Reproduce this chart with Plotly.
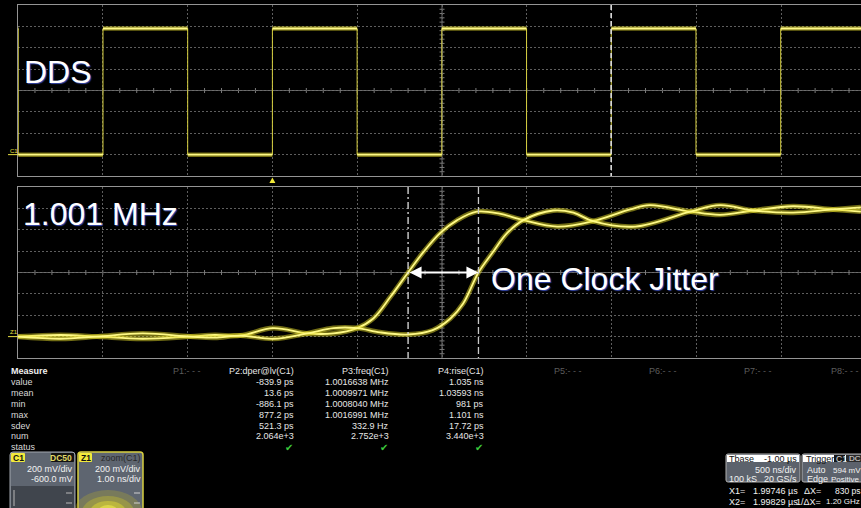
import plotly.graph_objects as go

W, H = 861, 508
SANS = "Liberation Sans, Arial, sans-serif"

# ---------------- C1: DDS output (500 ns/div, 200 mV/div, offset -600 mV) ----------------
c1_rising_us = [-0.999, 0.0, 0.999, 1.998, 2.997]
c1_falling_us = [-1.4985, -0.4995, 0.4995, 1.4985, 2.4975]
c1_low_v = 0.0
c1_high_v = 1.18

# ---------------- Z1: zoom of C1 around the rising edge near 2 us (1 ns/div) ----------------
z1_fast_ns = [1992.86, 1993.36, 1993.79, 1994.33, 1994.89, 1995.18, 1995.48, 1995.87,
              1996.27, 1996.58, 1996.86, 1997.05, 1997.25, 1997.46, 1997.64, 1997.84,
              1998.04, 1998.27, 1998.54, 1998.82, 1999.22, 1999.64, 2000.08, 2000.31,
              2000.79, 2001.14, 2001.53, 2002.00, 2002.47, 2002.80]
z1_fast_v = [0.00, 0.015, 0.00, -0.02, 0.00, 0.015, 0.01, 0.08,
             0.03, 0.03, 0.08, 0.17, 0.37, 0.60, 0.79, 0.97,
             1.09, 1.17, 1.15, 1.09, 1.03, 1.08, 1.19, 1.23,
             1.17, 1.14, 1.18, 1.22, 1.19, 1.17]
z1_slow_ns = [1992.86, 1993.36, 1993.79, 1994.33, 1994.89, 1995.18, 1995.48, 1995.87,
              1996.27, 1996.58, 1996.86, 1997.13, 1997.46, 1997.75, 1997.96, 1998.11,
              1998.29, 1998.45, 1998.63, 1998.82, 1999.17, 1999.41, 1999.64, 2000.14,
              2000.79, 2001.14, 2001.53, 2002.00, 2002.47, 2002.80]
z1_slow_v = [0.00, -0.02, 0.00, 0.03, 0.00, -0.01, 0.01, -0.02,
             0.03, 0.08, 0.08, 0.04, 0.02, 0.06, 0.17, 0.31,
             0.60, 0.78, 0.97, 1.09, 1.18, 1.16, 1.08, 1.03,
             1.17, 1.23, 1.18, 1.16, 1.19, 1.21]

# cursors
cursor_x1_us = 1.99746
cursor_x2_us = 1.99829

# ---------------- measurement table ----------------
measure_rows = ["value", "mean", "min", "max", "sdev", "num", "status"]
p2_header = "P2:dper@lv(C1)"
p2_values = ["-839.9 ps", "13.6 ps", "-886.1 ps", "877.2 ps", "521.3 ps", "2.064e+3"]
p3_header = "P3:freq(C1)"
p3_values = ["1.0016638 MHz", "1.0009971 MHz", "1.0008040 MHz", "1.0016991 MHz", "332.9 Hz", "2.752e+3"]
p4_header = "P4:rise(C1)"
p4_values = ["1.035 ns", "1.03593 ns", "981 ps", "1.101 ns", "17.72 ps", "3.440e+3"]
empty_params = ["P1:- - -", "P5:- - -", "P6:- - -", "P7:- - -", "P8:- - -"]

# ---------------- screen geometry ----------------
GRID_L = 18
DIV_PX = 84.8
TOP_Y0, TOP_Y1 = 5, 176
BOT_Y0, BOT_Y1 = 187, 358
VDIV = 0.2
V_CENTER = 0.6
US_PER_DIV = 0.5
NS_PER_DIV = 1.0
visible_divs = (W - GRID_L) / DIV_PX

c1_t0 = -1.5
c1_range = [c1_t0, c1_t0 + visible_divs * US_PER_DIV]
z1_t0 = 1992.86
z1_range = [z1_t0, z1_t0 + visible_divs * NS_PER_DIV]
v_range = [V_CENTER - 4 * VDIV, V_CENTER + 4 * VDIV]


def px(x):
    return x / W


def py(y):
    return 1 - y / H


YELLOW_GLOW = "rgba(228,218,40,0.50)"
YELLOW_CORE = "#fffa86"

fig = go.Figure()

# square wave: flat tops/bottoms drawn thick, edges drawn thin
edges = sorted([(t, 1) for t in c1_rising_us] + [(t, 0) for t in c1_falling_us])
level = c1_high_v if edges[0][1] == 0 else c1_low_v
hx, hy, vx, vy = [], [], [], []
prev = c1_range[0]
for t, is_rise in edges:
    hx += [prev, t, None]
    hy += [level, level, None]
    level = c1_high_v if is_rise else c1_low_v
    vx += [t, t, None]
    vy += [c1_low_v, c1_high_v, None]
    prev = t
hx += [prev, c1_range[1]]
hy += [level, level]

fig.add_trace(go.Scatter(x=vx, y=vy, mode="lines", line=dict(color="#d8d040", width=1),
                         hoverinfo="skip", xaxis="x", yaxis="y"))
fig.add_trace(go.Scatter(x=hx, y=hy, mode="lines", line=dict(color=YELLOW_GLOW, width=4.5),
                         hoverinfo="skip", xaxis="x", yaxis="y"))
fig.add_trace(go.Scatter(x=hx, y=hy, mode="lines", line=dict(color=YELLOW_CORE, width=1.8),
                         name="C1", xaxis="x", yaxis="y"))

# zoom traces (two captured edges)
for tx, tv, nm in [(z1_fast_ns, z1_fast_v, "Z1 early"), (z1_slow_ns, z1_slow_v, "Z1 late")]:
    fig.add_trace(go.Scatter(x=tx, y=tv, mode="lines", line=dict(color=YELLOW_GLOW, width=5, shape="spline", smoothing=1.0),
                             hoverinfo="skip", xaxis="x2", yaxis="y2"))
    fig.add_trace(go.Scatter(x=tx, y=tv, mode="lines", line=dict(color=YELLOW_CORE, width=1.8, shape="spline", smoothing=1.0),
                             name=nm, xaxis="x2", yaxis="y2"))

shapes = []
annotations = []

# center lines with fine ticks on both graticules
for (y0, y1) in [(TOP_Y0, TOP_Y1), (BOT_Y0, BOT_Y1)]:
    cy = (y0 + y1) / 2
    cx = GRID_L + 5 * DIV_PX
    vdiv_px = (y1 - y0) / 8
    shapes.append(dict(type="line", xref="paper", yref="paper", x0=px(GRID_L), x1=1, y0=py(cy), y1=py(cy),
                       line=dict(color="#6e6e6e", width=1), layer="below"))
    shapes.append(dict(type="line", xref="paper", yref="paper", x0=px(cx), x1=px(cx), y0=py(y0), y1=py(y1),
                       line=dict(color="#6e6e6e", width=1), layer="below"))
    k = 1
    while GRID_L + k * DIV_PX / 5 < W:
        x = GRID_L + k * DIV_PX / 5
        shapes.append(dict(type="line", xref="paper", yref="paper", x0=px(x), x1=px(x), y0=py(cy - 2.5), y1=py(cy + 2.5),
                           line=dict(color="#7a7a7a", width=1), layer="below"))
        k += 1
    for k in range(1, 40):
        y = y0 + k * vdiv_px / 5
        shapes.append(dict(type="line", xref="paper", yref="paper", x0=px(cx - 2.5), x1=px(cx + 2.5), y0=py(y), y1=py(y),
                           line=dict(color="#7a7a7a", width=1), layer="below"))

# cursors
shapes.append(dict(type="line", xref="x", yref="paper", x0=cursor_x1_us, x1=cursor_x1_us, y0=py(TOP_Y0), y1=py(TOP_Y1),
                   line=dict(color="#d8d8d8", width=1.3, dash="5px,3px")))
shapes.append(dict(type="line", xref="x", yref="paper", x0=cursor_x2_us, x1=cursor_x2_us, y0=py(TOP_Y0), y1=py(TOP_Y1),
                   line=dict(color="#d8d8d8", width=1.3, dash="5px,3px")))
x1_ns = cursor_x1_us * 1000
x2_ns = cursor_x2_us * 1000
shapes.append(dict(type="line", xref="x2", yref="paper", x0=x1_ns, x1=x1_ns, y0=py(BOT_Y0), y1=py(BOT_Y1),
                   line=dict(color="#e0e0e0", width=1.3, dash="7px,3px,2px,3px")))
shapes.append(dict(type="line", xref="x2", yref="paper", x0=x2_ns, x1=x2_ns, y0=py(BOT_Y0), y1=py(BOT_Y1),
                   line=dict(color="#c8c8c8", width=1.3, dash="7px,3px")))

# trigger position marker (t = 0) below the C1 graticule
tri = 3 / DIV_PX * US_PER_DIV
shapes.append(dict(type="path", xref="x", yref="paper",
                   path=f"M{-tri},{py(183)} L{tri},{py(183)} L0,{py(177.5)} Z",
                   fillcolor="#f0e838", line=dict(width=0)))

# channel ground markers at 0 V
shapes.append(dict(type="line", xref="paper", yref="y", x0=px(8), x1=px(18), y0=0, y1=0,
                   line=dict(color="#e8e040", width=1)))
shapes.append(dict(type="line", xref="paper", yref="y2", x0=px(8), x1=px(18), y0=0, y1=0,
                   line=dict(color="#e8e040", width=1)))


def text(s, x, y, size=9, color="#dcdcdc", anchor="left", bold=False, family=SANS, shadow=None):
    font = dict(family=family, size=size, color=color)
    if bold:
        font["weight"] = "bold"
    if shadow:
        font["shadow"] = shadow
    annotations.append(dict(text=s, x=px(x), y=py(y), xref="paper", yref="paper", xanchor=anchor,
                            yanchor="middle", showarrow=False, borderpad=0, font=font))


def rrect(x0, y0, x1, y1, fill, line=None, lw=1.0, r=0.0):
    if r:
        path = (f"M{px(x0 + r)},{py(y0)} L{px(x1 - r)},{py(y0)} Q{px(x1)},{py(y0)} {px(x1)},{py(y0 + r)} "
                f"L{px(x1)},{py(y1 - r)} Q{px(x1)},{py(y1)} {px(x1 - r)},{py(y1)} "
                f"L{px(x0 + r)},{py(y1)} Q{px(x0)},{py(y1)} {px(x0)},{py(y1 - r)} "
                f"L{px(x0)},{py(y0 + r)} Q{px(x0)},{py(y0)} {px(x0 + r)},{py(y0)} Z")
        shapes.append(dict(type="path", path=path, xref="paper", yref="paper", fillcolor=fill,
                           line=dict(color=line or "rgba(0,0,0,0)", width=lw if line else 0)))
    else:
        shapes.append(dict(type="rect", xref="paper", yref="paper", x0=px(x0), x1=px(x1), y0=py(y0), y1=py(y1),
                           fillcolor=fill, line=dict(color=line or "rgba(0,0,0,0)", width=lw if line else 0)))


# large labels
big_shadow = "1px 1px 1px rgba(60,80,190,0.9)"
text("DDS", 23, 72, size=32, color="#ffffff", shadow=big_shadow)
text("1.001 MHz", 22, 214, size=32, color="#ffffff", shadow=big_shadow)
text("One Clock Jitter", 490, 279, size=32, color="#ffffff", shadow=big_shadow)

# double arrow between the cursors
annotations.append(dict(x=x2_ns, y=V_CENTER, ax=x1_ns, ay=V_CENTER, xref="x2", yref="y2", axref="x2", ayref="y2",
                        text="", showarrow=True, arrowhead=2, arrowside="end+start", arrowsize=1.2,
                        arrowwidth=2, arrowcolor="#ffffff", standoff=0, startstandoff=0))

# channel tags at the left edge
text("C1", 9, 151, size=6, color="#e8e040")
text("Z1", 9, 332, size=6, color="#e8e040")

# measurement table
ROW_Y0, ROW_DY = 371, 10.9
text("Measure", 10, ROW_Y0, bold=True, color="#f0f0f0")
for i, r in enumerate(measure_rows):
    text(r, 10, ROW_Y0 + (i + 1) * ROW_DY, color="#d8d8d8")
for hdr, vals, xr in [(p2_header, p2_values, 295), (p3_header, p3_values, 390), (p4_header, p4_values, 485)]:
    text(hdr, xr, ROW_Y0, anchor="right", color="#e6e6e6")
    for i, v in enumerate(vals):
        text(v, xr, ROW_Y0 + (i + 1) * ROW_DY, anchor="right", color="#e6e6e6")
    text("✔", xr - 1, ROW_Y0 + 7 * ROW_DY, anchor="right", size=10, color="#3cc83c", family="DejaVu Sans")
for name, xl in zip(empty_params, [172, 553, 648, 743, 830]):
    text(name, xl, ROW_Y0, color="#5c5c5c")

# C1 channel descriptor
rrect(10, 452, 75, 512, "#5e6570", line="#a2a7ae", lw=1, r=3)
rrect(11, 486, 74, 511, "#40454d")
rrect(11, 453, 25, 462, "#f2ea3c", r=1)
text("C1", 12, 457.5, size=8.5, color="#111111", bold=True)
rrect(51, 453, 74, 462, "#121212", r=1)
text("DC50", 73, 457.5, size=8.5, color="#e0d868", anchor="right", bold=True)
text("200 mV/div", 74, 469, color="#f2f2f2", anchor="right")
text("-600.0 mV", 74, 479, color="#f2f2f2", anchor="right")
for yy in (493, 503):
    shapes.append(dict(type="line", xref="paper", yref="paper", x0=px(66), x1=px(72), y0=py(yy), y1=py(yy),
                       line=dict(color="#b8b8b8", width=1)))
shapes.append(dict(type="line", xref="paper", yref="paper", x0=px(14), x1=px(14), y0=py(490), y1=py(506),
                   line=dict(color="#b8b8b8", width=1)))

# Z1 zoom descriptor
rrect(78, 452, 143, 512, "#5e6570", line="#d8d040", lw=1.5, r=3)
for rx, ry, col in [(34, 22, "rgba(190,180,40,0.28)"), (26, 16, "rgba(210,200,40,0.35)"),
                    (18, 11, "rgba(230,222,50,0.45)"), (10, 7, "rgba(245,238,80,0.55)")]:
    shapes.append(dict(type="circle", xref="paper", yref="paper", x0=px(108 - rx), x1=px(108 + rx),
                       y0=py(512 - ry), y1=py(512 + ry), fillcolor=col, line=dict(width=0)))
rrect(79, 453, 92, 462, "#f2ea3c", r=1)
text("Z1", 80, 457.5, size=8.5, color="#111111", bold=True)
text("zoom(C1)", 142, 458, color="#2a2a2a", anchor="right")
text("200 mV/div", 142, 469, color="#f2f2f2", anchor="right")
text("1.00 ns/div", 142, 479, color="#f2f2f2", anchor="right")
for yy in (493, 503):
    shapes.append(dict(type="line", xref="paper", yref="paper", x0=px(134), x1=px(140), y0=py(yy), y1=py(yy),
                       line=dict(color="#d0d0d0", width=1)))

# timebase descriptor
rrect(726, 454, 800, 482, "#5c626c", line="#b0b0b0", lw=1, r=2)
rrect(727, 455, 799, 462, "#ffffff")
text("Tbase", 728, 458.5, color="#111111")
text("-1.00 µs", 798, 458.5, color="#111111", anchor="right")
text(f"{US_PER_DIV * 1000:.0f} ns/div", 798, 470, color="#f2f2f2", anchor="right")
text("100 kS", 728, 479, color="#f2f2f2")
text("20 GS/s", 798, 479, color="#f2f2f2", anchor="right")

# trigger descriptor
rrect(802, 454, 870, 482, "#5c626c", line="#b0b0b0", lw=1, r=2)
rrect(803, 455, 870, 462, "#ffffff")
text("Trigger", 805, 458.5, color="#111111")
rrect(834, 455, 845, 462, "#151515")
text("C1", 835, 458.5, size=8.5, color="#e0e0e0")
rrect(846, 455, 870, 462, "#2a2a2a")
text("DC", 848, 458.5, size=8, color="#e0e0e0")
text("Auto", 806, 470, color="#f2f2f2")
text("594 mV", 832, 470, size=8, color="#f2f2f2")
text("Edge", 806, 479, color="#f2f2f2")
text("Positive", 830, 479, size=8, color="#f2f2f2")

# cursor readout
dx_ns = (cursor_x2_us - cursor_x1_us) * 1000
text("X1=", 728, 490.5, color="#f2f2f2")
text(f"{cursor_x1_us:.5f} µs", 799, 490.5, color="#f2f2f2", anchor="right")
text("ΔX=", 822, 490.5, color="#f2f2f2", anchor="right")
text(f"{dx_ns * 1000:.0f} ps", 834, 490.5, size=8.5, color="#f2f2f2")
text("X2=", 728, 501.5, color="#f2f2f2")
text(f"{cursor_x2_us:.5f} µs", 799, 501.5, color="#f2f2f2", anchor="right")
text("1/ΔX=", 822, 501.5, color="#f2f2f2", anchor="right")
text(f"{1 / dx_ns:.2f} GHz", 825, 501.5, size=8, color="#f2f2f2")

grid = dict(showgrid=True, gridcolor="#5e5e5e", gridwidth=1, griddash="2px,2px", zeroline=False,
            showticklabels=False, ticks="", showline=True, linecolor="#949494", linewidth=1)

fig.update_layout(
    width=W, height=H, margin=dict(l=0, r=0, t=0, b=0),
    paper_bgcolor="#000000", plot_bgcolor="#000000", showlegend=False,
    xaxis=dict(domain=[px(GRID_L), 1], range=c1_range, tick0=c1_t0, dtick=US_PER_DIV, mirror=True,
               anchor="y", **grid),
    yaxis=dict(domain=[py(TOP_Y1), py(TOP_Y0)], range=v_range, tick0=v_range[0], dtick=VDIV, anchor="x", **grid),
    xaxis2=dict(domain=[px(GRID_L), 1], range=z1_range, tick0=z1_t0, dtick=NS_PER_DIV, mirror=True,
                anchor="y2", **grid),
    yaxis2=dict(domain=[py(BOT_Y1), py(BOT_Y0)], range=v_range, tick0=v_range[0], dtick=VDIV, anchor="x2", **grid),
    shapes=shapes,
    annotations=annotations,
    hovermode=False,
)

fig.write_html("out.html")
